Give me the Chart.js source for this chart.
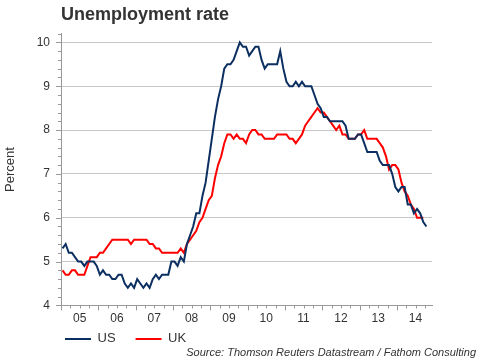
<!DOCTYPE html>
<html>
<head>
<meta charset="utf-8">
<title>Unemployment rate</title>
<script src="https://cdn.jsdelivr.net/npm/chart.js@4"></script>
<style>
  html, body { margin: 0; padding: 0; background: #fff; }
  #wrap { width: 486px; height: 363px; }
</style>
</head>
<body>
<div id="wrap"><canvas id="unemploymentChart"></canvas></div>
<script>
// ================= DATA =================
// monthly, Jan 2005 onwards (index 0 = Jan 2005)
const yearLabels = ["05", "06", "07", "08", "09", "10", "11", "12", "13", "14"];

const usRate = [
    5.3, 5.4, 5.2, 5.2, 5.1, 5.0, 5.0, 4.9, 5.0, 5.0, 5.0, 4.9,
    4.7, 4.8, 4.7, 4.7, 4.6, 4.6, 4.7, 4.7, 4.5, 4.4, 4.5, 4.4,
    4.6, 4.5, 4.4, 4.5, 4.4, 4.6, 4.7, 4.6, 4.7, 4.7, 4.7, 5.0,
    5.0, 4.9, 5.1, 5.0, 5.4, 5.6, 5.8, 6.1, 6.1, 6.5, 6.8, 7.3,
    7.8, 8.3, 8.7, 9.0, 9.4, 9.5, 9.5, 9.6, 9.8, 10.0, 9.9, 9.9,
    9.7, 9.8, 9.9, 9.9, 9.6, 9.4, 9.5, 9.5, 9.5, 9.5, 9.8, 9.4,
    9.1, 9.0, 9.0, 9.1, 9.0, 9.1, 9.0, 9.0, 9.0, 8.8, 8.6, 8.5,
    8.3, 8.3, 8.2, 8.2, 8.2, 8.2, 8.2, 8.1, 7.8, 7.8, 7.8, 7.9,
    7.9, 7.7, 7.5, 7.5, 7.5, 7.5, 7.3, 7.2, 7.2, 7.2, 7.0, 6.7,
    6.6, 6.7, 6.7, 6.3, 6.3, 6.1, 6.2, 6.1, 5.9, 5.8
];

const ukRate = [
    4.8, 4.7, 4.7, 4.8, 4.8, 4.7, 4.7, 4.7, 4.9, 5.1, 5.1, 5.1,
    5.2, 5.2, 5.3, 5.4, 5.5, 5.5, 5.5, 5.5, 5.5, 5.5, 5.4, 5.5,
    5.5, 5.5, 5.5, 5.5, 5.4, 5.4, 5.3, 5.3, 5.2, 5.2, 5.2, 5.2,
    5.2, 5.2, 5.3, 5.2, 5.4, 5.5, 5.6, 5.7, 5.9, 6.0, 6.2, 6.4,
    6.5, 6.9, 7.2, 7.4, 7.7, 7.9, 7.9, 7.8, 7.9, 7.8, 7.8, 7.7,
    7.9, 8.0, 8.0, 7.9, 7.9, 7.8, 7.8, 7.8, 7.8, 7.9, 7.9, 7.9,
    7.9, 7.8, 7.8, 7.7, 7.8, 7.9, 8.1, 8.2, 8.3, 8.4, 8.5, 8.4,
    8.4, 8.3, 8.2, 8.1, 8.0, 8.1, 7.9, 7.9, 7.8, 7.8, 7.8, 7.9,
    7.9, 8.0, 7.8, 7.8, 7.8, 7.8, 7.7, 7.6, 7.4, 7.1, 7.2, 7.2,
    7.1, 6.8, 6.6, 6.5, 6.3, 6.2, 6.0, 6.0, 6.0
];

const yTicks = [4, 5, 6, 7, 8, 9, 10];

// ================= HELPERS =================
function toPoints(values) {
    return values.map((v, i) => ({ x: i, y: v }));
}

// minor tick marks on both axes (quarters / 0.2pp), majors a bit longer
const axisTicks = {
    id: "axisTicks",
    beforeDraw(chart) {
        // legend sits just under the year labels, starting at the y axis
        chart.legend.left = chart.chartArea.left - 16;
        chart.legend.top = chart.chartArea.bottom + 7;
    },
    afterDraw(chart) {
        const { ctx, chartArea, scales: { x, y } } = chart;
        ctx.save();
        ctx.strokeStyle = "#999";
        ctx.lineWidth = 1;
        ctx.beginPath();
        for (let k = 0; x.min + k * 3 <= x.max; k++) {
            const px = Math.round(x.getPixelForValue(x.min + k * 3)) + 0.5;
            const len = k % 4 === 0 ? 5 : 3;
            ctx.moveTo(px, chartArea.bottom);
            ctx.lineTo(px, chartArea.bottom + len);
        }
        for (let k = 0; y.min + k * 0.2 <= y.max + 1e-6; k++) {
            const py = Math.round(y.getPixelForValue(y.min + k * 0.2)) + 0.5;
            const len = k % 5 === 0 ? 5 : 3;
            ctx.moveTo(chartArea.left - len, py);
            ctx.lineTo(chartArea.left, py);
        }
        ctx.stroke();
        ctx.restore();
    }
};

Chart.defaults.font.family = "'Liberation Sans', Arial, sans-serif";
Chart.defaults.color = "#333";

// ================= UNEMPLOYMENT RATE =================
new Chart(document.getElementById("unemploymentChart"), {
    type: "line",
    data: {
        datasets: [
            {
                label: "US",
                data: toPoints(usRate),
                borderColor: "#0b2f60",
                backgroundColor: "#0b2f60",
                borderWidth: 2,
                pointRadius: 0,
                fill: false
            },
            {
                label: "UK",
                data: toPoints(ukRate),
                borderColor: "#ff0000",
                backgroundColor: "#ff0000",
                borderWidth: 2,
                pointRadius: 0,
                fill: false
            }
        ]
    },
    options: {
        responsive: true,
        maintainAspectRatio: false,
        animation: false,
        layout: { padding: { right: 10 } },
        scales: {
            x: {
                type: "linear",
                min: -0.5,
                max: 118.8,
                afterBuildTicks: (scale) => {
                    scale.ticks = yearLabels.map((_, i) => ({ value: 5.5 + i * 12 }));
                },
                ticks: {
                    autoSkip: false,
                    maxRotation: 0,
                    padding: 6,
                    font: { size: 12 },
                    callback: (value, index) => yearLabels[index]
                },
                grid: { display: false, drawTicks: false },
                border: { display: true, color: "#999" }
            },
            y: {
                min: 4,
                max: 10.2,
                afterBuildTicks: (scale) => {
                    scale.ticks = yTicks.map(v => ({ value: v }));
                },
                afterFit: (scale) => { scale.width = 61; },
                ticks: { padding: 11, font: { size: 12 } },
                grid: { color: "#c8c8c8", drawTicks: false },
                border: { display: true, color: "#999" },
                title: {
                    display: true,
                    text: "Percent",
                    font: { size: 13 },
                    padding: { top: 3, bottom: 0 }
                }
            },
            yRight: {
                position: "right",
                min: 4,
                max: 10.2,
                afterFit: (scale) => { scale.width = 44; },
                ticks: { display: false },
                grid: { display: false, drawTicks: false },
                border: { display: false }
            }
        },
        plugins: {
            title: {
                display: true,
                text: "Unemployment rate",
                align: "start",
                fullSize: false,
                color: "#333",
                font: { size: 18, weight: "bold" },
                padding: { top: 4, bottom: 8 }
            },
            subtitle: {
                display: true,
                text: "Source: Thomson Reuters Datastream / Fathom Consulting",
                position: "bottom",
                align: "end",
                color: "#333",
                font: { size: 11, style: "italic" },
                padding: { top: 2, bottom: 3 }
            },
            legend: {
                position: "bottom",
                align: "start",
                fullSize: false,
                maxHeight: 13,
                labels: {
                    usePointStyle: true,
                    pointStyle: "line",
                    pointStyleWidth: 26,
                    padding: 20,
                    color: "#333",
                    font: { size: 13 }
                }
            },
            tooltip: { enabled: false }
        }
    },
    plugins: [axisTicks]
});
</script>
</body>
</html>
